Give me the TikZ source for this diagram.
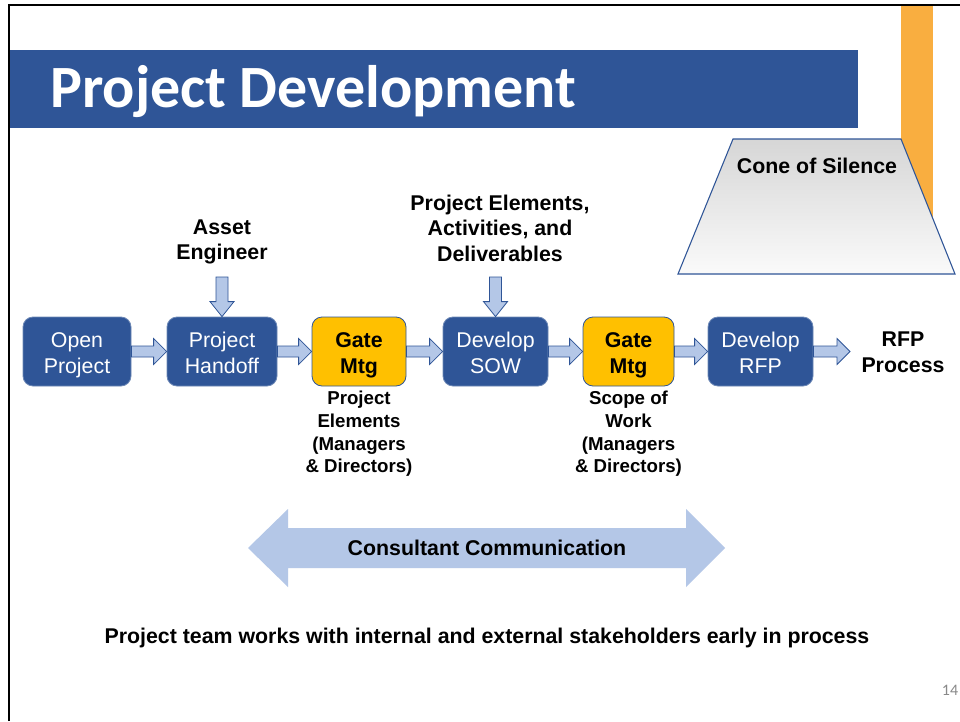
\documentclass[tikz,border=0pt]{standalone}
\usepackage{fontspec}
\setmainfont{Liberation Sans}
\newfontfamily\titlefont{Carlito}
\usetikzlibrary{calc}
\definecolor{sblue}{HTML}{2F5597}
\definecolor{lblue}{HTML}{B4C7E7}
\definecolor{gold}{HTML}{FFC000}
\definecolor{orng}{HTML}{F9AE40}
\definecolor{pgray}{HTML}{898989}
\definecolor{conetop}{HTML}{D6D6D6}
\definecolor{conebot}{HTML}{FAFAFA}
\newcommand\myharr[2]{\draw[barrow] ($(#1)+(0,-5.5)$) -- ($(#2)+(-13,-5.5)$) -- ($(#2)+(-13,-13)$) -- (#2) -- ($(#2)+(-13,13)$) -- ($(#2)+(-13,5.5)$) -- ($(#1)+(0,5.5)$) -- cycle;}
\newcommand\myvarr[2]{\draw[barrow] ($(#1)+(-6,0)$) -- ($(#2)+(-6,-15)$) -- ($(#2)+(-12,-15)$) -- (#2) -- ($(#2)+(12,-15)$) -- ($(#2)+(6,-15)$) -- ($(#1)+(6,0)$) -- cycle;}
\begin{document}
\begin{tikzpicture}[x=0.75pt,y=-0.75pt,
 box/.style={rounded corners=7.5pt, fill=sblue, draw=sblue!70!white, line width=0.6pt, text=white, font=\fontsize{16}{19.2}\selectfont, align=center, minimum height=51.75pt, inner sep=0pt, text height=33pt, text depth=0.5pt},
 gate/.style={box, fill=gold, draw=sblue, text=black, font=\fontsize{16}{19.2}\selectfont\bfseries},
 lbl/.style={align=center, font=\fontsize{16}{19.2}\selectfont\bfseries, inner sep=0pt},
 sub/.style={align=center, font=\fontsize{14}{17}\selectfont\bfseries, inner sep=0pt},
 barrow/.style={fill=lblue, draw=sblue, line width=0.6pt, line join=miter}]
\useasboundingbox (0,0) rectangle (960,721);
\fill[white] (0,0) rectangle (960,721);
% frame
\draw[black, line width=1.8pt] (9,721) -- (9,5) -- (960,5);
% orange bar
\fill[orng] (901,6) rectangle (933,240);
% title bar
\fill[sblue] (10,50) rectangle (858,128);
\node[anchor=base west, text=white, font=\titlefont\bfseries\fontsize{45}{50}\selectfont, inner sep=0pt] (title) at (50,107) {Project Development};
% cone of silence
\shade[top color=conetop, bottom color=conebot] (733,139) -- (901,139) -- (955,274) -- (678,274) -- cycle;
\draw[sblue, line width=0.8pt, line join=miter] (733,139) -- (901,139) -- (955,274) -- (678,274) -- cycle;
\node[lbl] (cone) at (817,166) {Cone of Silence};
% boxes
\node[box, minimum width=81pt] (op) at (77,351.5) {Open\\Project};
\node[box, minimum width=82.5pt] (ph) at (222,351.5) {Project\\Handoff};
\node[gate, minimum width=70.5pt] (g1) at (359,351.5) {Gate\\Mtg};
\node[box, minimum width=78.75pt] (sow) at (495.5,351.5) {Develop\\SOW};
\node[gate, minimum width=68.25pt] (g2) at (628.5,351.5) {Gate\\Mtg};
\node[box, minimum width=78.75pt] (rfp) at (760.5,351.5) {Develop\\RFP};
\node[lbl] (rfpp) at (903,352.5) {RFP\\Process};
\coordinate (rfpend) at (850,351.5);
% horizontal arrows
\myharr{op.east}{ph.west}
\myharr{ph.east}{g1.west}
\myharr{g1.east}{sow.west}
\myharr{sow.east}{g2.west}
\myharr{g2.east}{rfp.west}
\myharr{rfp.east}{rfpend}
% top labels and down arrows
\node[lbl] (ae) at (222,242) {Asset\\Engineer};
\node[lbl] (pe) at (500,228) {Project Elements,\\Activities, and\\Deliverables};
\coordinate (aes) at (222,277);
\coordinate (pes) at (495.5,277);
\myvarr{aes}{ph.north}
\myvarr{pes}{sow.north}
% bottom labels
\node[sub] (g1t) at (359,434) {Project\\Elements\\(Managers\\\& Directors)};
\node[sub] (g2t) at (628.5,434) {Scope of\\Work\\(Managers\\\& Directors)};
% consultant communication
\fill[lblue] (248,548) -- (288,509) -- (288,528) -- (686,528) -- (686,509) -- (725,548) -- (686,587) -- (686,568) -- (288,568) -- (288,587) -- cycle;
\node[lbl] (cc) at (487,548) {Consultant Communication};
\node[lbl] (foot) at (487,638) {Project team works with internal and external stakeholders early in process};
\node[font=\titlefont\fontsize{12}{14}\selectfont, text=pgray, inner sep=0pt] (pg) at (950,690) {14};
\end{tikzpicture}
\end{document}
